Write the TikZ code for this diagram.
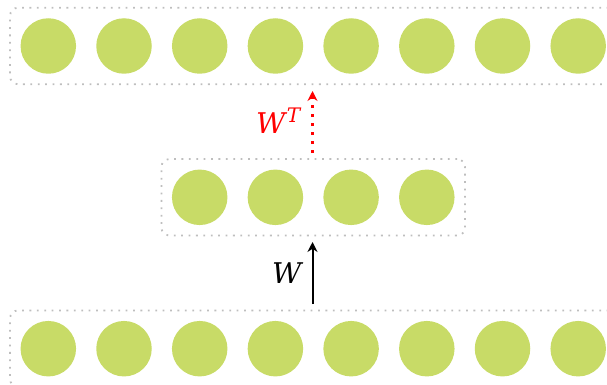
\documentclass[tikz,border=0pt]{standalone}
\usepackage{fontspec}
\newfontfamily\dvserif{DejaVu Serif}
\usetikzlibrary{arrows.meta,fit}
\definecolor{unitgreen}{RGB}{200,219,103}
\definecolor{boxgray}{RGB}{190,190,190}
\tikzset{
  unit/.style={circle,fill=unitgreen,minimum size=55.5pt,inner sep=0pt,draw=none},
  layerbox/.style={draw=boxgray,line width=1.8pt,dash pattern=on 1.8pt off 5.6pt,rounded corners=8pt,inner sep=10.3pt},
  fwd/.style={draw=black,line width=2pt,-{Stealth[length=10pt,width=10pt]},shorten <=7pt,shorten >=7pt},
  bwd/.style={draw=red,line width=2.2pt,dash pattern=on 3pt off 6pt,-{Stealth[length=10pt,width=10pt]},shorten <=7pt,shorten >=7pt},
  lbl/.style={font=\dvserif\itshape\fontsize{28.5}{32}\selectfont,inner sep=0pt}
}
\begin{document}
\begin{tikzpicture}[x=1pt,y=-1pt]
\useasboundingbox (0,0) rectangle (607,385);
\clip (0,0) rectangle (607,385);
\foreach \i in {0,...,7} {
  \node[unit] (t\i) at ({48.3+75.7*\i},46) {};
  \node[unit] (b\i) at ({48.3+75.7*\i},348.7) {};
}
\foreach \i in {0,...,3} {
  \node[unit] (m\i) at ({199.7+75.7*\i},197.3) {};
}
\node[layerbox,fit=(t0)(t7)] (top) {};
\node[layerbox,fit=(m0)(m3)] (mid) {};
\node[layerbox,fit=(b0)(b7)] (bot) {};
\coordinate (bs) at (312.5,311);
\coordinate (mb) at (312.5,235);
\coordinate (mt) at (312.5,160);
\coordinate (tb) at (312.5,84);
\draw[fwd] (bs) -- (mb);
\draw[bwd] (mt) -- (tb);
\node[lbl,anchor=base] (w) at (286.7,283) {W};
\node[lbl,anchor=base west,text=red] (wt) at (256,133.5) {W\kern1.5pt\raisebox{11pt}{\fontsize{20}{20}\selectfont T}};
\end{tikzpicture}
\end{document}
